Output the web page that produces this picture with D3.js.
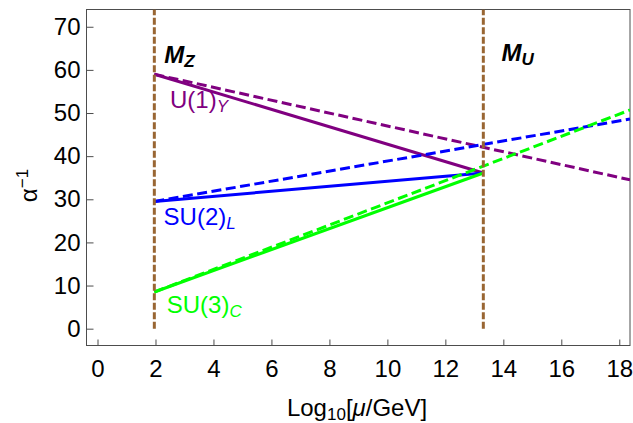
<!DOCTYPE html>
<html>
<head>
<meta charset="utf-8">
<script src="https://cdn.jsdelivr.net/npm/d3@7"></script>
<style>
  html, body { margin: 0; padding: 0; background: #fff; }
  svg { display: block; font-family: "Liberation Sans", Arial, Helvetica, sans-serif; }
</style>
</head>
<body>
<svg id="chart" width="633" height="423"></svg>
<script>
// Gauge coupling running: inverse couplings vs log10 of the scale
const groups      = ["U(1)", "SU(2)", "SU(3)"];
const groupSubs   = ["Y", "L", "C"];
const colors      = ["#800080", "#0000ff", "#00ff00"];
const logMZ       = 1.96;    // log10(M_Z / GeV)
const logMU       = 13.31;   // log10(M_U / GeV)
const logMax      = 18.37;   // right end of the dashed running
const alphaInvMZ  = [59.0, 29.5, 8.5];   // values at M_Z
const alphaInvMU  = [36.1, 36.1, 36.1];  // unified value at M_U (solid)
const alphaInvMax = [34.5, 48.6, 50.7];  // dashed running at the right edge
const xTicks      = [0, 2, 4, 6, 8, 10, 12, 14, 16, 18];
const yTicks      = [0, 10, 20, 30, 40, 50, 60, 70];
const xDomain     = [-0.38, 18.37];
const yDomain     = [-3.9, 74.0];
// label anchor points in data coordinates
const labelX      = [2.5, 2.28, 2.39];
const labelY      = [51.2, 24.1, 3.6];

const svg = d3.select("#chart");
const mLeft = 86.5, mRight = 630, mTop = 9.5, mBottom = 345.5;
const fontMain = 24, fontSub = 17;

const x = d3.scaleLinear().domain(xDomain).range([mLeft, mRight]);
const y = d3.scaleLinear().domain(yDomain).range([mBottom, mTop]);

// frame
const frameColor = "#4d4d4d";
svg.append("rect")
  .attr("x", mLeft).attr("y", mTop)
  .attr("width", mRight - mLeft).attr("height", mBottom - mTop)
  .attr("fill", "none").attr("stroke", frameColor).attr("stroke-width", 1);

// axes with inward ticks
const xAxis = d3.axisBottom(x).tickValues(xTicks).tickSizeInner(-6).tickSizeOuter(0).tickPadding(14);
const yAxis = d3.axisLeft(y).tickValues(yTicks).tickSizeInner(-7).tickSizeOuter(0).tickPadding(6);

const gx = svg.append("g").attr("transform", `translate(0,${mBottom})`).call(xAxis);
const gy = svg.append("g").attr("transform", `translate(${mLeft},0)`).call(yAxis);
[gx, gy].forEach(g => {
  g.select(".domain").remove();
  g.selectAll(".tick line").attr("stroke", frameColor);
  g.selectAll(".tick text").attr("fill", "#000")
    .style("font-size", fontMain + "px")
    .style("font-family", "'Liberation Sans', Arial, sans-serif");
});

// plot area clip
svg.append("clipPath").attr("id", "plot")
  .append("rect").attr("x", mLeft).attr("y", mTop)
  .attr("width", mRight - mLeft).attr("height", mBottom - mTop);
const plot = svg.append("g").attr("clip-path", "url(#plot)");

const line = d3.line().x(d => x(d[0])).y(d => y(d[1]));

// solid: running up to the unification scale
groups.forEach((g, i) => {
  plot.append("path")
    .datum([[logMZ, alphaInvMZ[i]], [logMU, alphaInvMU[i]]])
    .attr("d", line)
    .attr("fill", "none").attr("stroke", colors[i])
    .attr("stroke-width", 3);
});

// dashed: running without the unification
groups.forEach((g, i) => {
  plot.append("path")
    .datum([[logMZ, alphaInvMZ[i]], [logMax, alphaInvMax[i]]])
    .attr("d", line)
    .attr("fill", "none").attr("stroke", colors[i])
    .attr("stroke-width", 3)
    .attr("stroke-dasharray", "10,4.5");
});

// vertical scale markers
[logMZ, logMU].forEach(v => {
  plot.append("line")
    .attr("x1", x(v)).attr("x2", x(v))
    .attr("y1", y(0)).attr("y2", mTop)
    .attr("stroke", "#996633").attr("stroke-width", 3)
    .attr("stroke-dasharray", "7,2.5");
});

// scale labels
function scaleLabel(xv, yv, main, sub) {
  const t = svg.append("text")
    .attr("x", x(xv)).attr("y", y(yv))
    .style("font-size", fontMain + "px").style("font-weight", "bold").style("font-style", "italic")
    .attr("fill", "#000");
  t.append("tspan").text(main);
  t.append("tspan").attr("dy", 4).style("font-size", fontSub + "px").text(sub);
}
scaleLabel(2.3, 61.7, "M", "Z");
scaleLabel(13.94, 62.0, "M", "U");

// group labels
groups.forEach((g, i) => {
  const t = svg.append("text")
    .attr("x", x(labelX[i])).attr("y", y(labelY[i]))
    .attr("fill", colors[i]).style("font-size", fontMain + "px");
  t.append("tspan").text(g);
  t.append("tspan").attr("dy", 4).style("font-size", fontSub + "px").style("font-style", "italic").text(groupSubs[i]);
});

// x axis title
const xt = svg.append("text")
  .attr("x", 357).attr("y", 416)
  .attr("text-anchor", "middle").style("font-size", fontMain + "px").attr("fill", "#000");
xt.append("tspan").text("Log");
xt.append("tspan").attr("dy", 4).style("font-size", fontSub + "px").text("10");
xt.append("tspan").attr("dy", -4).text("[");
xt.append("tspan").style("font-style", "italic").text("μ");
xt.append("tspan").text("/GeV]");

// y axis title
const yt = svg.append("text")
  .attr("transform", `translate(37,${(mTop + mBottom) / 2 + 8}) rotate(-90)`)
  .attr("text-anchor", "middle").style("font-size", fontMain + "px").attr("fill", "#000");
yt.append("tspan").text("α");
yt.append("tspan").attr("dy", -9).style("font-size", fontSub + "px").text("−1");
</script>
</body>
</html>
